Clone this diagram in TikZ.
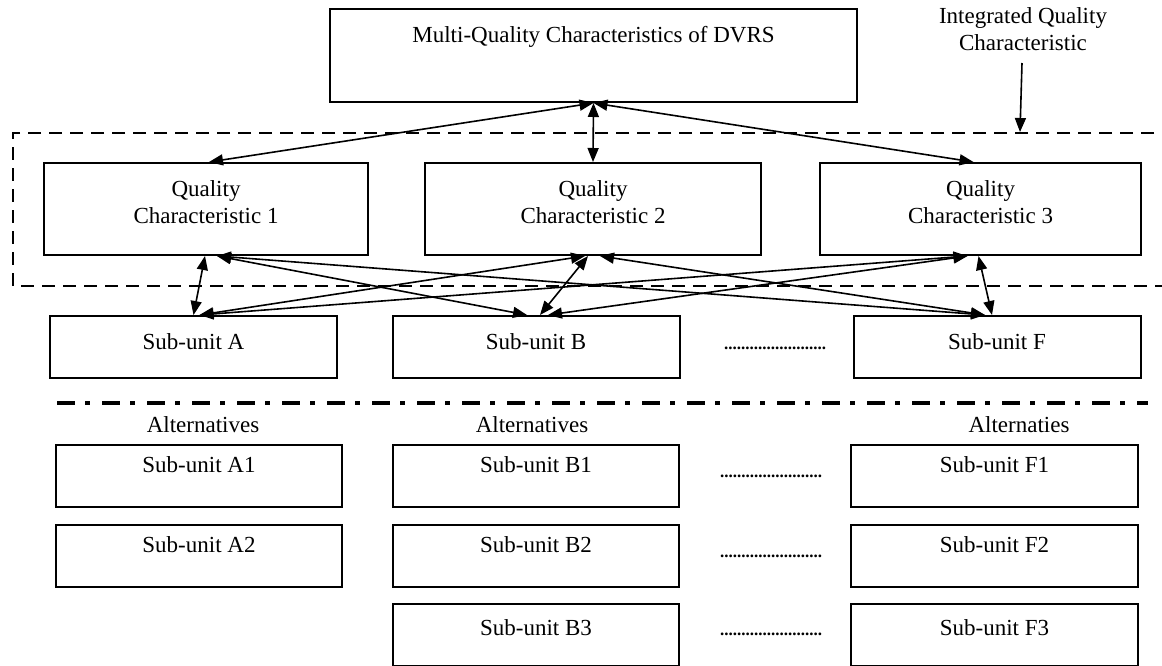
\documentclass[tikz,border=0pt]{standalone}
\usepackage{fontspec}
\setmainfont{Liberation Serif}
\usetikzlibrary{arrows.meta}
\begin{document}
\begin{tikzpicture}[x=1pt,y=-1pt,
  box/.style={draw, line width=2pt, rectangle, inner sep=0pt},
  sbox/.style={box, minimum width=287pt, minimum height=62pt},
  qbox/.style={box, minimum height=92pt},
  txt/.style={font=\fontsize{23}{27}\selectfont, inner sep=0pt, align=center},
  dotrow/.style={font=\fontsize{17}{20}\selectfont\bfseries, inner sep=0pt, anchor=base},
  tip/.tip={Triangle[length=14pt,width=11pt]},
  con/.style={line width=1.6pt, tip-tip},
  one/.style={line width=1.6pt, -tip},
  frame/.style={line width=2.6pt, dash pattern=on 13pt off 8pt},
  divider/.style={line width=3.4pt, dash pattern=on 18pt off 10pt on 5pt off 12pt},
]
\useasboundingbox (0,0) rectangle (1162,665);
\clip (0,0) rectangle (1162,665);

% top box
\node[box, minimum width=527pt, minimum height=93pt] (top) at (593.5,55.5) {};
\node[txt, anchor=base] (toptxt) at (593.5,42) {Multi-Quality Characteristics of DVRS};

% integrated label
\node[txt] (intg) at (1023,29) {Integrated Quality\\Characteristic};
\coordinate (ia) at (1020,132);
\draw[one] (1022,63) -- (ia);

% dashed frame
\draw[frame] (1175,133) -- (13,133) -- (13,286) -- (1175,286);

% quality characteristic boxes
\node[qbox, minimum width=324pt] (qc1) at (206,209) {};
\node[qbox, minimum width=336pt] (qc2) at (593,209) {};
\node[qbox, minimum width=321pt] (qc3) at (980.5,209) {};
\node[txt] (qc1t) at (206,202) {Quality\\Characteristic 1};
\node[txt] (qc2t) at (593,202) {Quality\\Characteristic 2};
\node[txt] (qc3t) at (980.5,202) {Quality\\Characteristic 3};

% sub-units
\node[sbox] (A) at (193.5,347) {};
\node[sbox] (B) at (536,347) {};
\node[sbox] (F) at (997,347) {};
\node[txt, anchor=base] (At) at (193.5,349) {Sub-unit A};
\node[txt, anchor=base] (Bt) at (536,349) {Sub-unit B};
\node[txt, anchor=base] (Ft) at (997,349) {Sub-unit F};
\node[dotrow] (d0) at (775,349) {........................};

% connectors top
\draw[con] (top.south) -- ([xshift=3pt]qc1.north);
\draw[con] (top.south) -- (qc2.north);
\draw[con] (top.south) -- ([xshift=-7pt]qc3.north);

% connectors bottom
\draw[con] ([xshift=-1pt]qc1.south) -- (A.north);
\draw[con] ([xshift=11pt]qc1.south) -- ([xshift=-9pt]B.north);
\draw[con] ([xshift=11pt]qc1.south) -- ([xshift=-12pt]F.north);
\draw[con] ([xshift=-8pt]qc2.south) -- ([xshift=6pt]A.north);
\draw[con] ([xshift=-5pt]qc2.south) -- ([xshift=4pt]B.north);
\draw[con] ([xshift=7pt]qc2.south) -- ([xshift=-12pt]F.north);
\draw[con] ([xshift=-13pt]qc3.south) -- ([xshift=6pt]A.north);
\draw[con] ([xshift=-13pt]qc3.south) -- ([xshift=12pt]B.north);
\draw[con] ([xshift=-2pt]qc3.south) -- ([xshift=-5pt]F.north);

% divider
\draw[divider] (57,403) -- (1148,403);

% alternatives labels
\node[txt, anchor=base] (altA) at (203,432) {Alternatives};
\node[txt, anchor=base] (altB) at (532,432) {Alternatives};
\node[txt, anchor=base] (altF) at (1019,432) {Alternaties};

% alternative boxes
\node[sbox, minimum width=286pt] (A1) at (199,476) {};
\node[sbox, minimum width=286pt] (A2) at (199,556) {};
\node[sbox, minimum width=286pt] (B1) at (536,476) {};
\node[sbox, minimum width=286pt] (B2) at (536,556) {};
\node[sbox, minimum width=286pt] (B3) at (536,635) {};
\node[sbox] (F1) at (994.5,476) {};
\node[sbox] (F2) at (994.5,556) {};
\node[sbox] (F3) at (994.5,635) {};
\node[txt, anchor=base] (A1t) at (199,472) {Sub-unit A1};
\node[txt, anchor=base] (A2t) at (199,552) {Sub-unit A2};
\node[txt, anchor=base] (B1t) at (536,472) {Sub-unit B1};
\node[txt, anchor=base] (B2t) at (536,552) {Sub-unit B2};
\node[txt, anchor=base] (B3t) at (536,635) {Sub-unit B3};
\node[txt, anchor=base] (F1t) at (994.5,472) {Sub-unit F1};
\node[txt, anchor=base] (F2t) at (994.5,552) {Sub-unit F2};
\node[txt, anchor=base] (F3t) at (994.5,635) {Sub-unit F3};
\node[dotrow] (d1) at (771,477) {........................};
\node[dotrow] (d2) at (771,557) {........................};
\node[dotrow] (d3) at (771,635) {........................};
\end{tikzpicture}
\end{document}
